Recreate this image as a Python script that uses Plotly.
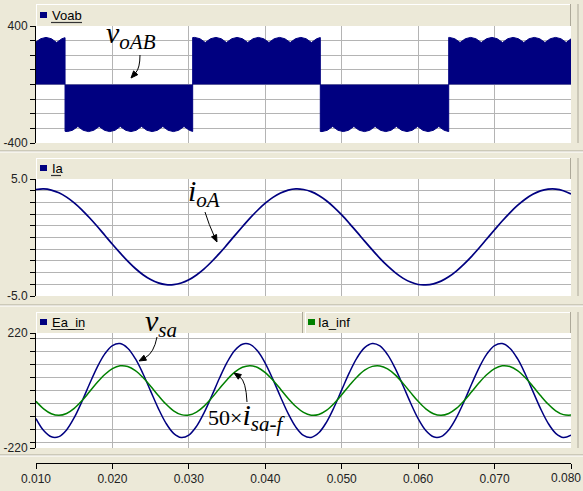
import plotly.graph_objects as go

W, H = 583, 491
BG = "#ECE9D8"
GRID = "#B4B4B4"
NAVY = "#000080"
GREEN = "#008000"

# ---------------- data ----------------
sample_t = [round(0.010 + 0.001 * i, 3) for i in range(71)]

# v_oAB : switched voltage with 6-pulse ripple envelope (s, V)
voab_t = [
    0.0100, 0.01062, 0.01131, 0.01201, 0.01270, 0.01339, 0.0138,
    0.0138, 0.01409, 0.01478, 0.01548, 0.01617, 0.01687, 0.01756, 0.01826, 0.01895, 0.01964,
    0.02034, 0.02103, 0.02173, 0.02242, 0.02312, 0.02381, 0.02451, 0.02520, 0.02590, 0.02659,
    0.02728, 0.02798, 0.02867, 0.02937, 0.03006, 0.0305,
    0.0305, 0.03076, 0.03145, 0.03215, 0.03284, 0.03354, 0.03423, 0.03492, 0.03562, 0.03631,
    0.03701, 0.03770, 0.03840, 0.03909, 0.03979, 0.04048, 0.04117, 0.04187, 0.04256, 0.04326,
    0.04395, 0.04465, 0.04534, 0.04604, 0.04673, 0.0472,
    0.0472, 0.04742, 0.04812, 0.04881, 0.04951, 0.05020, 0.05090, 0.05159, 0.05229, 0.05298,
    0.05367, 0.05437, 0.05506, 0.05576, 0.05645, 0.05715, 0.05784, 0.05854, 0.05923, 0.05993,
    0.06062, 0.06131, 0.06201, 0.06270, 0.06340, 0.0640,
    0.0640, 0.06409, 0.06479, 0.06548, 0.06618, 0.06687, 0.06756, 0.06826, 0.06895, 0.06965,
    0.07034, 0.07104, 0.07173, 0.07243, 0.07312, 0.07382, 0.07451, 0.07520, 0.07590, 0.07659,
    0.07729, 0.07798, 0.07868, 0.07937, 0.0800,
]
voab_v = [
    291, 313, 322, 313, 287, 313, 320,
    -320, -322, -313, -287, -313, -322, -313, -287, -313, -322,
    -313, -287, -313, -322, -313, -287, -313, -322, -313, -287,
    -313, -322, -313, -287, -313, -321,
    321, 322, 313, 287, 313, 322, 313, 287, 313, 322,
    313, 287, 313, 322, 313, 287, 313, 322, 313, 287,
    313, 322, 313, 287, 313, 321,
    -321, -322, -313, -287, -313, -322, -313, -287, -313, -322,
    -313, -287, -313, -322, -313, -287, -313, -322, -313, -287,
    -313, -322, -313, -287, -313, -322,
    322, 322, 313, 287, 313, 322, 313, 287, 313, 322,
    313, 287, 313, 322, 313, 287, 313, 322, 313, 287,
    313, 322, 313, 287, 312,
]

# i_oA (A)
ia_v = [
    4.10, 4.15, 4.05, 3.82, 3.45, 2.96, 2.37, 1.69, 0.96, 0.19,
    -0.58, -1.32, -2.02, -2.65, -3.18, -3.59, -3.88, -4.03, -4.03, -3.89,
    -3.61, -3.20, -2.68, -2.05, -1.36, -0.61, 0.16, 0.92, 1.66, 2.33,
    2.93, 3.43, 3.80, 4.05, 4.15, 4.10, 3.92, 3.59, 3.14, 2.58,
    1.93, 1.21, 0.46, -0.31, -1.06, -1.78, -2.43, -3.00, -3.47, -3.81,
    -4.02, -4.05, -3.96, -3.73, -3.36, -2.87, -2.28, -1.61, -0.88, -0.11,
    0.66, 1.41, 2.11, 2.74, 3.27, 3.69, 3.98, 4.13, 4.14, 4.00,
    3.72,
]

# v_sa (V)
ea_in_v = [
    -107.6, -153.2, -177.2, -176.4, -150.7, -104.0, -42.6, 24.8, 88.7, 140.1,
    171.9, 179.5, 161.9, 121.6, 64.2, -2.3, -68.4, -124.9, -163.8, -179.8,
    -170.5, -137.2, -84.7, -20.3, 46.9, 107.7, 153.2, 177.2, 176.4, 150.7,
    104.0, 42.6, -24.8, -88.7, -140.1, -171.9, -179.5, -161.9, -121.6, -64.2,
    2.3, 68.4, 124.9, 163.8, 179.8, 170.5, 137.2, 84.7, 20.3, -46.9,
    -107.7, -153.2, -177.2, -176.4, -150.7, -104.0, -42.6, 24.8, 88.7, 140.1,
    171.9, 179.5, 161.9, 121.6, 64.2, -2.3, -68.4, -124.9, -163.8, -179.8,
    -170.5,
]

# 50 x i_sa-f
ia_inf_v = [
    -41.5, -70.1, -88.8, -95.0, -87.9, -68.4, -39.4, -4.8, 30.5, 61.4,
    83.8, 94.4, 91.7, 76.2, 49.9, 16.6, -19.0, -51.9, -77.6, -92.3,
    -94.1, -82.7, -59.6, -28.2, 7.2, 41.5, 70.1, 88.8, 95.0, 87.9,
    68.4, 39.4, 4.8, -30.5, -61.4, -83.8, -94.4, -91.7, -76.2, -49.9,
    -16.6, 19.0, 51.9, 77.6, 92.3, 94.1, 82.7, 59.6, 28.2, -7.2,
    -41.5, -70.1, -88.8, -95.0, -87.9, -68.4, -39.4, -4.8, 30.5, 61.4,
    83.8, 94.4, 91.7, 76.2, 49.9, 16.6, -19.0, -51.9, -77.6, -92.3,
    -94.1,
]

x_ticks = [0.01, 0.02, 0.03, 0.04, 0.05, 0.06, 0.07, 0.08]
x_label_ticks = [0.01, 0.02, 0.03, 0.04, 0.05, 0.06, 0.07]
x_tick_text = ["0.010", "0.020", "0.030", "0.040", "0.050", "0.060", "0.070"]
x_last_tick, x_last_text = [0.08], "0.080"
y1_ticks, y1_text = [-400, 400], ["-400", "400"]
y1_minor = [-300, -200, -100, 0, 100, 200, 300]
y2_ticks, y2_text = [-5, 5], ["-5.0", "5.0"]
y2_minor = [-4, -3, -2, -1, 0, 1, 2, 3, 4]
y3_ticks, y3_text = [-220, 220], ["-220", "220"]
y3_minor = [-200, -150, -100, -50, 0, 50, 100, 150, 200]


# ---------------- helpers (pixel -> paper) ----------------
def fx(px):
    return px / W


def fy(py):
    return 1 - py / H


fig = go.Figure()
fig.add_trace(go.Scatter(x=voab_t, y=voab_v, mode="lines", fill="tozeroy",
                         fillcolor=NAVY, line=dict(color=NAVY, width=1),
                         xaxis="x", yaxis="y", name="Voab"))
fig.add_trace(go.Scatter(x=sample_t, y=ia_v, mode="lines", line_shape="spline",
                         line=dict(color=NAVY, width=1.7), xaxis="x2", yaxis="y2", name="Ia"))
fig.add_trace(go.Scatter(x=sample_t, y=ea_in_v, mode="lines", line_shape="spline",
                         line=dict(color=NAVY, width=1.5), xaxis="x3", yaxis="y3", name="Ea_in"))
fig.add_trace(go.Scatter(x=sample_t, y=ia_inf_v, mode="lines", line_shape="spline",
                         line=dict(color=GREEN, width=1.5), xaxis="x3", yaxis="y3", name="Ia_inf"))

tickfont = dict(family="Liberation Sans, Arial, sans-serif", size=12, color="#222222")
xdom = [fx(36), fx(571)]
xcommon = dict(domain=xdom, range=[0.010, 0.080], showgrid=True,
               gridcolor=GRID, gridwidth=1, zeroline=False, fixedrange=True, automargin=False)
ycommon = dict(showgrid=True, gridcolor=GRID, gridwidth=1, zeroline=False, ticks="outside",
               ticklen=5, tickcolor="#000", showline=True, linecolor="#000", linewidth=1,
               tickfont=tickfont, fixedrange=True, automargin=False)


def minor(vals):
    return dict(tickvals=vals, ticks="outside", ticklen=5, tickcolor="#000",
                showgrid=True, gridcolor=GRID, gridwidth=1)


fig.update_layout(
    template="none",
    width=W, height=H, autosize=False,
    margin=dict(l=0, r=0, t=0, b=0, pad=0),
    paper_bgcolor=BG, plot_bgcolor="white", showlegend=False,
    xaxis=dict(**xcommon, anchor="y", tickvals=x_ticks, showticklabels=False, ticks="",
               showline=False),
    xaxis2=dict(**xcommon, anchor="y2", tickvals=x_ticks, showticklabels=False, ticks="",
                showline=False),
    xaxis3=dict(**xcommon, anchor="free", position=fy(463), showticklabels=True,
                tickvals=x_label_ticks, ticktext=x_tick_text, ticks="outside", ticklen=5,
                tickcolor="#000", showline=True, linecolor="#000", linewidth=1,
                tickfont=tickfont, minor=minor(x_last_tick)),
    yaxis=dict(**ycommon, anchor="x", domain=[fy(143), fy(26)], range=[-400, 400],
               tickvals=y1_ticks, ticktext=y1_text, minor=minor(y1_minor)),
    yaxis2=dict(**ycommon, anchor="x2", domain=[fy(296), fy(179)], range=[-5, 5],
                tickvals=y2_ticks, ticktext=y2_text, minor=minor(y2_minor)),
    yaxis3=dict(**ycommon, anchor="x3", domain=[fy(448), fy(333)], range=[-220, 220],
                tickvals=y3_ticks, ticktext=y3_text, minor=minor(y3_minor)),
)

shapes = []


def pline(x0, y0, x1, y1, color, width=1):
    shapes.append(dict(type="line", xref="paper", yref="paper", x0=fx(x0), y0=fy(y0),
                       x1=fx(x1), y1=fy(y1), line=dict(color=color, width=width), layer="above"))


def header(x0, x1, y0, y1):
    shapes.append(dict(type="rect", xref="paper", yref="paper", x0=fx(x0), x1=fx(x1),
                       y0=fy(y1), y1=fy(y0), fillcolor=BG, line=dict(width=0), layer="below"))
    pline(x0, y0 + 0.5, x1, y0 + 0.5, "#FFFFFF")
    pline(x0 + 0.5, y0, x0 + 0.5, y1, "#FFFFFF")
    pline(x1 - 0.5, y0, x1 - 0.5, y1, "#ACA899")


def swatch(x0, y0, color):
    shapes.append(dict(type="rect", xref="paper", yref="paper", x0=fx(x0), x1=fx(x0 + 7),
                       y0=fy(y0 + 6), y1=fy(y0), fillcolor=color, line=dict(width=0), layer="above"))


def carrow(tail, ctrl, head):
    (tx, ty), (cx, cy), (hx, hy) = tail, ctrl, head
    dx, dy = hx - cx, hy - cy
    n = (dx * dx + dy * dy) ** 0.5
    ux, uy = dx / n, dy / n
    L, Wd = 7.0, 2.8
    bx, by = hx - ux * L, hy - uy * L
    p1 = (bx - uy * Wd, by + ux * Wd)
    p2 = (bx + uy * Wd, by - ux * Wd)
    shapes.append(dict(type="path", xref="paper", yref="paper",
                       path=f"M {fx(tx)},{fy(ty)} Q {fx(cx)},{fy(cy)} {fx(bx)},{fy(by)}",
                       line=dict(color="#000", width=1), layer="above"))
    shapes.append(dict(type="path", xref="paper", yref="paper",
                       path=(f"M {fx(hx)},{fy(hy)} L {fx(p1[0])},{fy(p1[1])} "
                             f"L {fx(p2[0])},{fy(p2[1])} Z"),
                       fillcolor="#000", line=dict(color="#000", width=1), layer="above"))


header(36, 571, 4, 26)
header(36, 571, 158, 179)
header(36, 303, 312, 333)
header(305, 571, 312, 333)
for ys in (151, 305, 455):
    pline(0, ys, W, ys, "#ACA899")
    pline(0, ys + 1, W, ys + 1, "#FFFFFF")
for (ya, yb) in ((4, 143), (158, 296), (312, 448)):
    pline(578, ya, 578, yb, "#ACA899")

swatch(40, 12, NAVY)
swatch(40, 165, NAVY)
swatch(40, 319, NAVY)
swatch(308, 319, GREEN)

# focus underlines under the header names
pline(51, 22.5, 82, 22.5, "#333333", 1.2)
pline(51, 175.5, 61, 175.5, "#333333", 1.2)
pline(51, 329.5, 84, 329.5, "#333333", 1.2)

carrow((140, 55), (140, 68), (131, 78))
carrow((205, 212), (209, 225), (217, 242))
carrow((157, 337), (154, 353), (139, 361))
carrow((247, 402), (246, 381), (234, 373))

fig.update_layout(shapes=shapes)

hfont = dict(family="Liberation Sans, Arial, sans-serif", size=13, color="#000")
mfont = dict(family="Liberation Serif, Times New Roman, serif", size=30, color="#000")
anns = []


def label(text, x, y, font, xanchor="left"):
    anns.append(dict(text=text, x=fx(x), y=fy(y), xref="paper", yref="paper",
                     xanchor=xanchor, yanchor="middle", showarrow=False, font=font))


label("Voab", 50, 15, hfont)
label("Ia", 50, 168, hfont)
label("Ea_in", 50, 322, hfont)
label("Ia_inf", 316, 322, hfont)
label(x_last_text, 583, 478, tickfont, xanchor="right")

label("<i>v<sub>oAB</sub></i>", 104, 35, mfont)
label("<i>i<sub>oA</sub></i>", 186, 193, mfont)
label("<i>v<sub>sa</sub></i>", 143, 323, mfont)
label("<span style='font-size:22px'>50×</span><i>i<sub>sa-f</sub></i>", 206, 417, mfont)

fig.update_layout(annotations=anns)

fig.write_html("out.html", config={"displayModeBar": False},
               post_script="document.body.style.margin='0px';document.body.style.padding='0px';")
